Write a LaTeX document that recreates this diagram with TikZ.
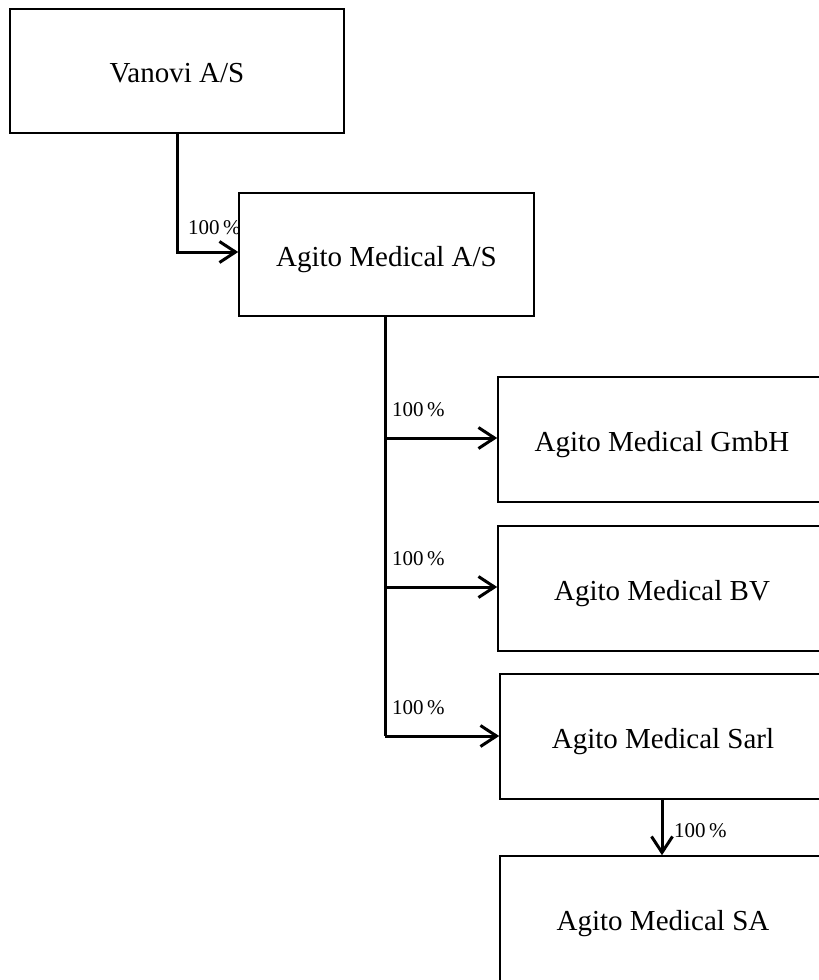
\documentclass[tikz,border=0pt]{standalone}
\usepackage{fontspec}
\setmainfont{Liberation Serif}
\usetikzlibrary{arrows.meta}
\begin{document}
\begin{tikzpicture}[x=1pt,y=-1pt,
  box/.style={draw,line width=1.6pt,inner sep=0pt,text height=26pt,text depth=3pt,font=\fontsize{29}{34}\selectfont},
  pct/.style={font=\fontsize{21}{24}\selectfont,inner sep=0pt},
  conn/.style={line width=3pt,-{Straight Barb[length=16pt,width=21pt,line width=3pt]}},
  plain/.style={line width=3pt}]
\useasboundingbox (0,0) rectangle (819,980);
\clip (0,0) rectangle (819,980);
% boxes
\node[box,minimum width=334pt,minimum height=124pt] (vanovi) at (177,71) {Vanovi A/S};
\node[box,minimum width=295pt,minimum height=123pt] (agito) at (386.5,254.5) {Agito Medical A/S};
\node[box,minimum width=328pt,minimum height=125pt] (gmbh) at (662,439.5) {Agito Medical GmbH};
\node[box,minimum width=328pt,minimum height=125pt] (bv) at (662,588.5) {Agito Medical BV};
\node[box,minimum width=326pt,minimum height=125pt] (sarl) at (663,736.5) {Agito Medical Sarl};
\node[box,minimum width=326pt,minimum height=125pt] (sa) at (663,918.5) {Agito Medical SA};
% coordinates
\coordinate (c1) at (177,252);
\coordinate (t0) at (385,316);
\coordinate (t1) at (385,438);
\coordinate (t2) at (385,587);
\coordinate (t3) at (385,736);
\coordinate (s0) at (662,799);
% connectors
\draw[conn] (vanovi.south -| c1) -- (c1) -- (c1 -| agito.west);
\draw[plain] (agito.south -| t0) -- (t3);
\draw[conn] (t1) -- (t1 -| gmbh.west);
\draw[conn] (t2) -- (t2 -| bv.west);
\draw[conn] (t3) -- (t3 -| sarl.west);
\draw[conn] (sarl.south -| s0) -- (s0 |- sa.north);
% labels
\node[pct,anchor=west] (p0) at (188,228) {100\,\%};
\node[pct,anchor=west] (p1) at (392,410) {100\,\%};
\node[pct,anchor=west] (p2) at (392,559) {100\,\%};
\node[pct,anchor=west] (p3) at (392,708) {100\,\%};
\node[pct,anchor=west] (p4) at (674,831) {100\,\%};
\end{tikzpicture}
\end{document}
